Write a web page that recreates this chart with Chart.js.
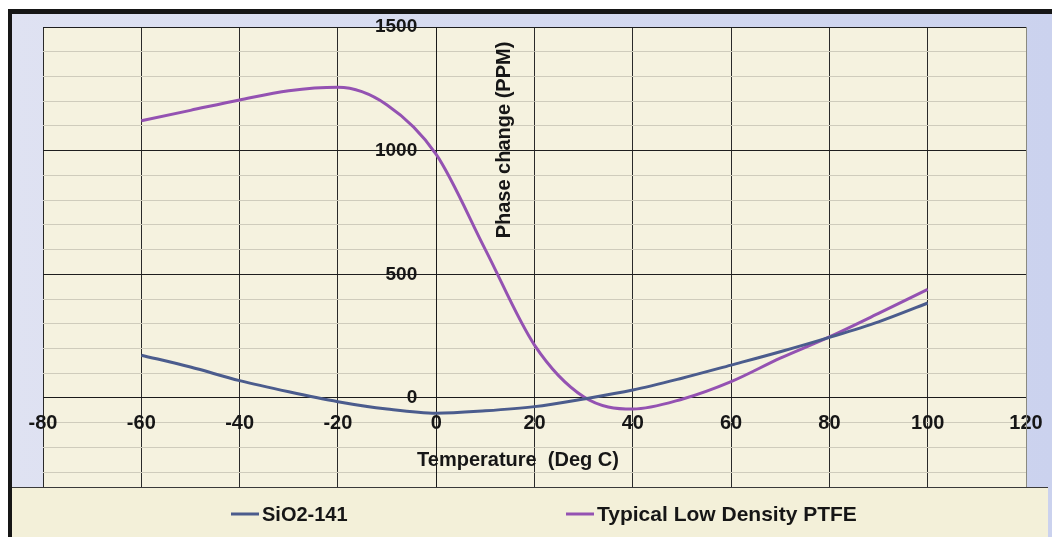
<!DOCTYPE html>
<html>
<head>
<meta charset="utf-8">
<script src="https://cdn.jsdelivr.net/npm/chart.js@4"></script>
<style>
	body { margin: 0; background: #fff; }
	canvas { display: block; }
</style>
</head>
<body>
<canvas id="chart" width="1052" height="537"></canvas>
<script>
const temps = [-60, -50, -40, -30, -20, -10, 0, 10, 20, 30, 40, 50, 60, 70, 80, 90, 100]
const sio2 = [173, 125, 70, 25, -15, -45, -62, -52, -35, -4, 32, 80, 133, 187, 245, 308, 384]
const ptfe = [1121, 1163, 1205, 1242, 1256, 1185, 985, 600, 214, 5, -45, -5, 66, 161, 247, 342, 439]
const seriesNames = ['SiO2-141', 'Typical Low Density PTFE']
const seriesColors = ['#4b5c8d', '#9452b2']
const xTicks = [-80, -60, -40, -20, 0, 20, 40, 60, 80, 100, 120]
const yLabels = [0, 500, 1000, 1500]
const yMinorStep = 100
const yMin = -360

const FONT = '"Liberation Sans", Arial, sans-serif'

function toPoints(values) {
	return temps.map((t, i) => ({ x: t, y: values[i] }))
}

// frame, plot background, titles and legend
const decor = {
	id: 'decor',
	beforeDraw(chart) {
		const { ctx, chartArea } = chart
		ctx.save()
		ctx.fillStyle = '#ffffff'
		ctx.fillRect(0, 0, chart.width, chart.height)
		ctx.fillStyle = '#161616'
		ctx.fillRect(8, 9, chart.width - 8, 5)
		ctx.fillRect(8, 9, 4, chart.height - 9)
		const g = ctx.createLinearGradient(12, 0, chart.width, 0)
		g.addColorStop(0, '#dfe2f2')
		g.addColorStop(1, '#cbd2ee')
		ctx.fillStyle = g
		ctx.fillRect(12, 14, chart.width - 12, chart.height - 14)
		ctx.fillStyle = '#f5f2df'
		ctx.fillRect(chartArea.left, chartArea.top, chartArea.right - chartArea.left, chartArea.bottom - chartArea.top)
		ctx.restore()
	},
	afterDraw(chart) {
		const { ctx, chartArea } = chart
		ctx.save()
		// right edge of plot
		ctx.strokeStyle = '#8a8a80'
		ctx.lineWidth = 1
		ctx.beginPath()
		ctx.moveTo(chartArea.right + 0.5, chartArea.top)
		ctx.lineTo(chartArea.right + 0.5, chartArea.bottom)
		ctx.stroke()

		ctx.fillStyle = '#161616'
		ctx.font = 'bold 20px ' + FONT
		ctx.textAlign = 'center'
		ctx.textBaseline = 'middle'
		ctx.fillText('Temperature  (Deg C)', 518, 460)

		ctx.save()
		ctx.translate(504, 140)
		ctx.rotate(-Math.PI / 2)
		ctx.fillText('Phase change (PPM)', 0, 0)
		ctx.restore()

		// legend
		const top = chartArea.bottom
		ctx.fillStyle = '#f3f0d9'
		ctx.fillRect(12, top, 1036, chart.height - top)
		ctx.strokeStyle = '#3a3a3a'
		ctx.beginPath()
		ctx.moveTo(12, top + 0.5)
		ctx.lineTo(1048, top + 0.5)
		ctx.stroke()

		const starts = [231, 566]
		ctx.textAlign = 'left'
		chart.data.datasets.forEach((ds, i) => {
			ctx.strokeStyle = ds.borderColor
			ctx.lineWidth = 3
			ctx.beginPath()
			ctx.moveTo(starts[i], 514)
			ctx.lineTo(starts[i] + 28, 514)
			ctx.stroke()
			ctx.fillStyle = '#161616'
			ctx.font = 'bold ' + (i ? 21 : 20) + 'px ' + FONT
			ctx.fillText(ds.label, starts[i] + 31, 515)
		})
		ctx.restore()
	}
}

new Chart(document.getElementById('chart'), {
	type: 'line',
	data: {
		datasets: [
			{
				label: seriesNames[0],
				data: toPoints(sio2),
				borderColor: seriesColors[0],
				backgroundColor: seriesColors[0],
				borderWidth: 3,
				pointRadius: 0,
				cubicInterpolationMode: 'monotone',
				fill: false,
			},
			{
				label: seriesNames[1],
				data: toPoints(ptfe),
				borderColor: seriesColors[1],
				backgroundColor: seriesColors[1],
				borderWidth: 3,
				pointRadius: 0,
				cubicInterpolationMode: 'monotone',
				fill: false,
			},
		]
	},
	plugins: [decor],
	options: {
		responsive: false,
		animation: false,
		layout: {
			padding: { left: 43, top: 27, right: 26, bottom: 50 }
		},
		scales: {
			x: {
				type: 'linear',
				position: { y: 0 },
				min: xTicks[0],
				max: xTicks[xTicks.length - 1],
				afterBuildTicks: (scale) => {
					scale.ticks = xTicks.map(v => ({ value: v }))
				},
				grid: {
					color: '#2a2a2a',
					lineWidth: 1,
					tickLength: 6,
				},
				border: {
					color: '#1a1a1a',
					width: 1,
				},
				ticks: {
					autoSkip: false,
					maxRotation: 0,
					color: '#161616',
					padding: 8,
					font: { family: FONT, size: 20, weight: 'bold' },
				}
			},
			y: {
				type: 'linear',
				position: { x: 0 },
				min: yMin,
				max: yLabels[yLabels.length - 1],
				afterBuildTicks: (scale) => {
					const ticks = []
					for (let v = Math.ceil(yMin / yMinorStep) * yMinorStep; v <= scale.max; v += yMinorStep) ticks.push({ value: v })
					scale.ticks = ticks
				},
				ticks: {
					autoSkip: false,
					color: '#161616',
					font: { family: FONT, size: 19, weight: 'bold' },
					// labels sit right-aligned on the axis, so pad them with en spaces
					callback: (v) => yLabels.includes(v) ? v + '\u2002\u2002' : '',
				},
				grid: {
					color: (c) => {
						const v = c.tick.value
						if (v % 500 === 0) return '#1e1e1e'
						return '#cfccbc'
					},
					tickColor: (c) => yLabels.includes(c.tick.value) ? '#1e1e1e' : 'rgba(0,0,0,0)',
					tickLength: 5,
				},
				border: {
					color: '#1a1a1a',
					width: 1,
				},
			}
		},
		plugins: {
			legend: { display: false },
			tooltip: { enabled: false },
		}
	}
})
</script>
</body>
</html>
